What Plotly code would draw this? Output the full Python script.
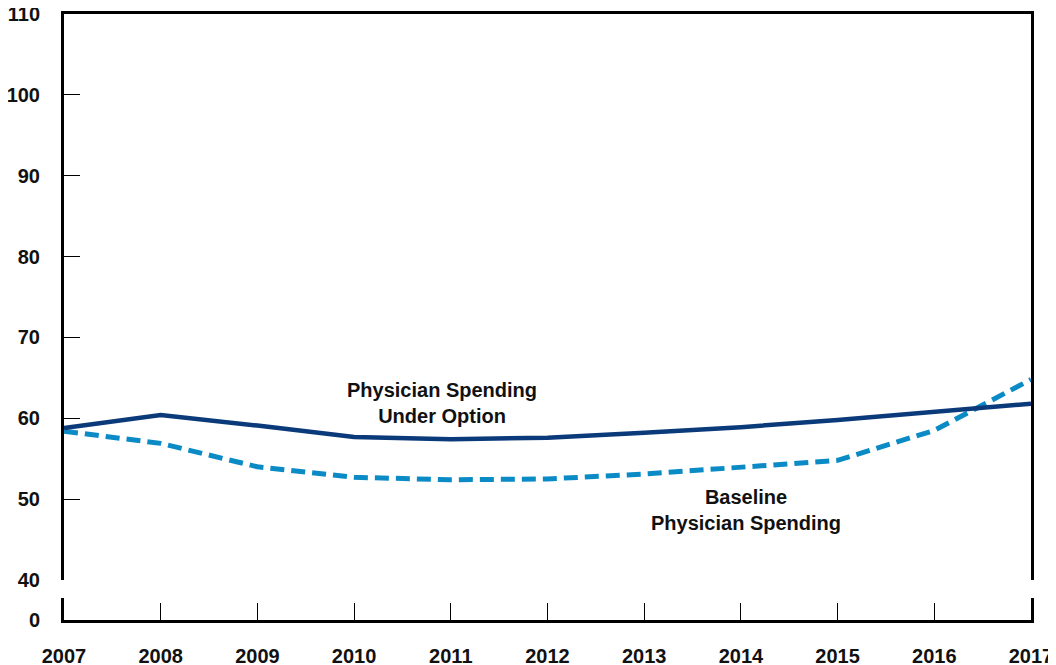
import plotly.graph_objects as go

years = [2007, 2008, 2009, 2010, 2011, 2012, 2013, 2014, 2015, 2016, 2017]
under_option = [58.8, 60.4, 59.1, 57.7, 57.4, 57.6, 58.2, 58.9, 59.8, 60.8, 61.8]
baseline = [58.4, 56.9, 54.0, 52.7, 52.4, 52.5, 53.1, 53.9, 54.8, 58.5, 64.8]
y_ticks = [40, 50, 60, 70, 80, 90, 100, 110]

navy = "#0b3a7a"
blue = "#0b8bc6"
font_family = "Liberation Sans, Arial, sans-serif"

fig = go.Figure()
fig.add_trace(go.Scatter(x=years, y=baseline, mode="lines",
                         line=dict(color=blue, width=5, dash="14px,7px"),
                         xaxis="x", yaxis="y", showlegend=False))
fig.add_trace(go.Scatter(x=years, y=under_option, mode="lines",
                         line=dict(color=navy, width=4.5),
                         xaxis="x", yaxis="y", showlegend=False))
# invisible trace so the lower (broken-axis) panel is drawn
fig.add_trace(go.Scatter(x=[years[0]], y=[0], mode="markers",
                         marker=dict(opacity=0), hoverinfo="skip",
                         xaxis="x2", yaxis="y2", showlegend=False))

fig.add_annotation(x=2010.91, y=61.9, xref="x", yref="y",
                   text="Physician Spending<br>Under Option", showarrow=False,
                   font=dict(family=font_family, size=20, color="#111111", weight="bold"),
                   align="center")
fig.add_annotation(x=2014.05, y=48.6, xref="x", yref="y",
                   text="Baseline<br>Physician Spending", showarrow=False,
                   font=dict(family=font_family, size=20, color="#111111", weight="bold"),
                   align="center")

fig.update_layout(
    width=1056, height=665,
    margin=dict(l=56, r=33, t=6, b=53, autoexpand=False),
    paper_bgcolor="white", plot_bgcolor="white",
    font=dict(family=font_family, size=20, color="#111111", weight="bold"),
    xaxis=dict(domain=[0, 1], range=[2007, 2017], anchor="y", side="top",
               showline=True, linecolor="black", linewidth=3,
               showticklabels=False, ticks="", showgrid=False, zeroline=False,
               automargin=False),
    yaxis=dict(domain=[40 / 606, 1], range=[40, 110], anchor="x",
               tickvals=y_ticks, ticks="inside", ticklen=16, tickwidth=1,
               tickcolor="black", showline=True, linecolor="black", linewidth=3,
               mirror=True, showgrid=False, zeroline=False,
               ticklabelstandoff=17, automargin=False,
               ticklabeloverflow="allow"),
    xaxis2=dict(domain=[0, 1], range=[2007, 2017], anchor="y2",
                tickvals=years, ticks="inside", ticklen=17, tickwidth=1,
                tickcolor="black", showline=True, linecolor="black", linewidth=3,
                showgrid=False, zeroline=False, ticklabelstandoff=16,
                automargin=False, ticklabeloverflow="allow"),
    yaxis2=dict(domain=[0, 22 / 606], range=[0, 1], anchor="x2",
                tickvals=[0], ticks="", showline=True, linecolor="black",
                linewidth=3, mirror=True, showgrid=False, zeroline=False,
                ticklabelstandoff=17, automargin=False,
                ticklabeloverflow="allow"),
)

fig.write_html("out.html")
